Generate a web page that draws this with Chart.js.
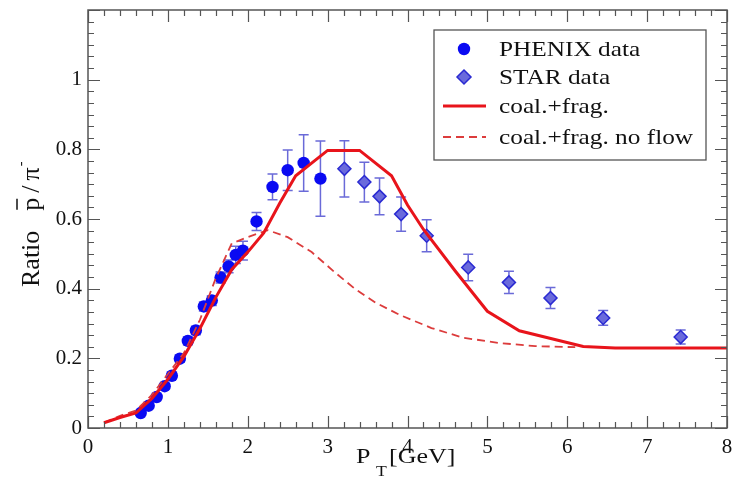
<!DOCTYPE html>
<html>
<head>
<meta charset="utf-8">
<script src="https://cdn.jsdelivr.net/npm/chart.js@4.4.1/dist/chart.umd.min.js"></script>
<style>
  html, body { margin: 0; padding: 0; background: #fff; }
</style>
</head>
<body>
<canvas id="chart" width="732" height="481"></canvas>
<script>
// PHENIX data (filled circles)
const phenixX = [0.66, 0.76, 0.86, 0.96, 1.05, 1.15, 1.25, 1.35, 1.45, 1.55, 1.66, 1.76, 1.85, 1.94, 2.11, 2.31, 2.50, 2.70, 2.91];
const phenixY = [0.043, 0.064, 0.089, 0.120, 0.150, 0.199, 0.250, 0.280, 0.349, 0.366, 0.432, 0.464, 0.497, 0.509, 0.593, 0.692, 0.740, 0.761, 0.716];
const phenixErr = [0.005, 0.006, 0.007, 0.008, 0.009, 0.010, 0.011, 0.012, 0.013, 0.014, 0.016, 0.018, 0.025, 0.027, 0.026, 0.037, 0.058, 0.081, 0.108];

// STAR data (diamonds)
const starX = [3.21, 3.46, 3.65, 3.92, 4.24, 4.76, 5.27, 5.79, 6.45, 7.42];
const starY = [0.744, 0.706, 0.665, 0.614, 0.552, 0.461, 0.418, 0.373, 0.316, 0.261];
const starErr = [0.081, 0.057, 0.053, 0.049, 0.046, 0.038, 0.032, 0.030, 0.021, 0.020];

// coal.+frag. (solid)
const coalX = [0.2, 0.4, 0.6, 0.8, 1.0, 1.2, 1.4, 1.6, 1.8, 2.0, 2.2, 2.4, 2.6, 3.0, 3.4, 3.8, 4.0, 4.2, 4.6, 5.0, 5.4, 6.2, 6.6, 8.0];
const coalY = [0.015, 0.030, 0.043, 0.085, 0.140, 0.205, 0.285, 0.375, 0.455, 0.505, 0.560, 0.645, 0.724, 0.797, 0.797, 0.724, 0.640, 0.570, 0.450, 0.335, 0.279, 0.234, 0.230, 0.230];

// coal.+frag. no flow (dashed)
const noflowX = [0.2, 0.4, 0.6, 0.8, 1.0, 1.2, 1.4, 1.6, 1.8, 2.0, 2.25, 2.5, 2.8, 3.1, 3.35, 3.6, 3.9, 4.3, 4.7, 5.15, 5.6, 6.1];
const noflowY = [0.015, 0.035, 0.050, 0.095, 0.155, 0.215, 0.310, 0.430, 0.530, 0.548, 0.568, 0.548, 0.505, 0.445, 0.398, 0.360, 0.325, 0.287, 0.259, 0.244, 0.235, 0.232];

const xTicks = [0, 1, 2, 3, 4, 5, 6, 7, 8];
const xTickLabels = ['0', '1', '2', '3', '4', '5', '6', '7', '8'];
const yTicks = [0, 0.2, 0.4, 0.6, 0.8, 1];
const yTickLabels = ['0', '0.2', '0.4', '0.6', '0.8', '1'];

const legendLabels = ['PHENIX data', 'STAR data', 'coal.+frag.', 'coal.+frag. no flow'];

const SERIF = '"Liberation Serif", "DejaVu Serif", serif';
const RED = '#e8141b';
const RED_DASH = '#dc3c3c';
const BLUE = '#0a0af2';
const STAR_FILL = '#6a6adc';
const STAR_EDGE = '#2a2ad2';
const ERR = '#6a6ad8';

const toPts = (xs, ys) => xs.map((x, i) => ({ x: x, y: ys[i] }));

// error bars under the markers
const errorBars = {
    id: 'errorBars',
    beforeDatasetsDraw(chart) {
        const { ctx, scales: { x, y } } = chart;
        ctx.save();
        ctx.strokeStyle = ERR;
        ctx.lineWidth = 1.5;
        const draw = (xs, ys, es) => {
            xs.forEach((xv, i) => {
                const px = x.getPixelForValue(xv);
                const top = y.getPixelForValue(ys[i] + es[i]);
                const bot = y.getPixelForValue(ys[i] - es[i]);
                ctx.beginPath();
                ctx.moveTo(px, top); ctx.lineTo(px, bot);
                ctx.moveTo(px - 5, top); ctx.lineTo(px + 5, top);
                ctx.moveTo(px - 5, bot); ctx.lineTo(px + 5, bot);
                ctx.stroke();
            });
        };
        draw(phenixX, phenixY, phenixErr);
        draw(starX, starY, starErr);
        ctx.restore();
    }
};

// frame, inward ticks on all sides, axis titles, legend
const decorations = {
    id: 'decorations',
    afterDraw(chart) {
        const { ctx, chartArea: a, scales: { x, y } } = chart;
        ctx.save();
        ctx.strokeStyle = '#555';
        ctx.lineWidth = 1.2;

        // x ticks: major every 1, minor every 0.2
        for (let i = 0; i <= 40; i++) {
            const v = i * 0.2;
            const px = Math.round(x.getPixelForValue(v)) + 0.5;
            const len = i % 5 === 0 ? 12 : 6;
            ctx.beginPath();
            ctx.moveTo(px, a.bottom); ctx.lineTo(px, a.bottom - len);
            ctx.moveTo(px, a.top); ctx.lineTo(px, a.top + len);
            ctx.stroke();
        }
        // y ticks: major every 0.2, minor every 0.2/6
        for (let i = 0; i <= 36; i++) {
            const v = i * 0.2 / 6;
            const py = Math.round(y.getPixelForValue(v)) + 0.5;
            const len = i % 6 === 0 ? 12 : 6;
            ctx.beginPath();
            ctx.moveTo(a.left, py); ctx.lineTo(a.left + len, py);
            ctx.moveTo(a.right, py); ctx.lineTo(a.right - len, py);
            ctx.stroke();
        }
        ctx.lineWidth = 1.5;
        ctx.strokeRect(a.left, a.top, a.right - a.left, a.bottom - a.top);

        ctx.fillStyle = '#111';
        ctx.textBaseline = 'alphabetic';
        ctx.textAlign = 'left';

        // x title: P_T [GeV]
        ctx.save();
        ctx.translate(356, 463);
        ctx.scale(1.18, 1);
        ctx.font = '22px ' + SERIF;
        ctx.fillText('P', 0, 0);
        ctx.font = '15px ' + SERIF;
        ctx.fillText('T', 17, 13);
        ctx.font = '22px ' + SERIF;
        ctx.fillText('[GeV]', 28, 0);
        ctx.restore();

        // y title: Ratio p̄ / π⁻
        ctx.save();
        ctx.translate(39, 287);
        ctx.rotate(-Math.PI / 2);
        ctx.font = '26px ' + SERIF;
        let cx = 0;
        ctx.fillText('Ratio', cx, 0);
        cx += ctx.measureText('Ratio').width + 20;
        ctx.fillText('p', cx, 0);
        const pw = ctx.measureText('p').width;
        ctx.lineWidth = 1.5;
        ctx.strokeStyle = '#111';
        ctx.beginPath();
        ctx.moveTo(cx + 1, -22); ctx.lineTo(cx + pw - 1, -22);
        ctx.stroke();
        cx += pw + 5;
        ctx.fillText('/', cx, 0);
        cx += ctx.measureText('/').width + 5;
        ctx.fillText('π', cx, 0);
        cx += ctx.measureText('π').width + 1;
        ctx.font = '14px ' + SERIF;
        ctx.fillText('-', cx, -14);
        ctx.restore();

        // legend box
        const lx = 434, ly = 30, lw = 272, lh = 130;
        ctx.fillStyle = '#fff';
        ctx.fillRect(lx, ly, lw, lh);
        ctx.strokeStyle = '#555';
        ctx.lineWidth = 1.3;
        ctx.strokeRect(lx, ly, lw, lh);

        const rows = [49, 77, 106, 137];
        const sx = 464;

        // PHENIX symbol
        ctx.fillStyle = BLUE;
        ctx.beginPath();
        ctx.arc(sx, rows[0], 6.2, 0, Math.PI * 2);
        ctx.fill();
        // STAR symbol
        ctx.fillStyle = STAR_FILL;
        ctx.strokeStyle = STAR_EDGE;
        ctx.lineWidth = 1.5;
        ctx.beginPath();
        ctx.moveTo(sx, rows[1] - 7); ctx.lineTo(sx + 7, rows[1]);
        ctx.lineTo(sx, rows[1] + 7); ctx.lineTo(sx - 7, rows[1]);
        ctx.closePath();
        ctx.fill(); ctx.stroke();
        // solid line
        ctx.strokeStyle = RED;
        ctx.lineWidth = 3;
        ctx.beginPath();
        ctx.moveTo(443, rows[2]); ctx.lineTo(486, rows[2]);
        ctx.stroke();
        // dashed line
        ctx.lineWidth = 1.8;
        ctx.setLineDash([8, 5]);
        ctx.strokeStyle = RED_DASH;
        ctx.beginPath();
        ctx.moveTo(443, rows[3]); ctx.lineTo(486, rows[3]);
        ctx.stroke();
        ctx.setLineDash([]);

        ctx.fillStyle = '#111';
        ctx.textBaseline = 'middle';
        legendLabels.forEach((t, i) => {
            ctx.save();
            ctx.translate(499, rows[i] + 1);
            ctx.scale(1.15, 1);
            ctx.font = '22px ' + SERIF;
            ctx.fillText(t, 0, 0);
            ctx.restore();
        });
        ctx.restore();
    }
};

new Chart(document.getElementById('chart'), {
    type: 'scatter',
    data: {
        datasets: [
            {
                label: legendLabels[2],
                data: toPts(coalX, coalY),
                showLine: true,
                borderColor: RED,
                borderWidth: 3,
                pointRadius: 0,
                tension: 0,
            },
            {
                label: legendLabels[3],
                data: toPts(noflowX, noflowY),
                showLine: true,
                borderColor: RED_DASH,
                borderWidth: 1.8,
                borderDash: [8, 5],
                pointRadius: 0,
                tension: 0,
            },
            {
                label: legendLabels[0],
                data: toPts(phenixX, phenixY),
                pointStyle: 'circle',
                pointRadius: 6.2,
                backgroundColor: BLUE,
                borderColor: BLUE,
                borderWidth: 0,
            },
            {
                label: legendLabels[1],
                data: toPts(starX, starY),
                pointStyle: 'rectRot',
                pointRadius: 6.5,
                backgroundColor: STAR_FILL,
                borderColor: STAR_EDGE,
                borderWidth: 1.5,
            },
        ]
    },
    options: {
        responsive: false,
        animation: false,
        devicePixelRatio: 1,
        layout: { autoPadding: false, padding: { top: 10, right: 5, left: 0, bottom: 0 } },
        plugins: {
            legend: { display: false },
            tooltip: { enabled: false },
        },
        scales: {
            x: {
                type: 'linear',
                min: 0,
                max: 8,
                afterBuildTicks: (s) => { s.ticks = xTicks.map((v) => ({ value: v })); },
                afterFit: (s) => { s.height = 53; s.paddingLeft = 0; s.paddingRight = 0; },
                grid: { display: false, drawTicks: false },
                border: { display: false },
                ticks: {
                    callback: (v, i) => xTickLabels[i],
                    font: { size: 21, family: SERIF },
                    color: '#111',
                    padding: 7,
                    maxRotation: 0,
                },
            },
            y: {
                type: 'linear',
                min: 0,
                max: 1.2,
                afterBuildTicks: (s) => { s.ticks = yTicks.map((v) => ({ value: v })); },
                afterFit: (s) => { s.width = 88; s.paddingTop = 0; s.paddingBottom = 0; },
                grid: { display: false, drawTicks: false },
                border: { display: false },
                ticks: {
                    callback: (v, i) => yTickLabels[i],
                    font: { size: 21, family: SERIF },
                    color: '#111',
                    padding: 6,
                },
            },
        }
    },
    plugins: [errorBars, decorations]
});
</script>
</body>
</html>
